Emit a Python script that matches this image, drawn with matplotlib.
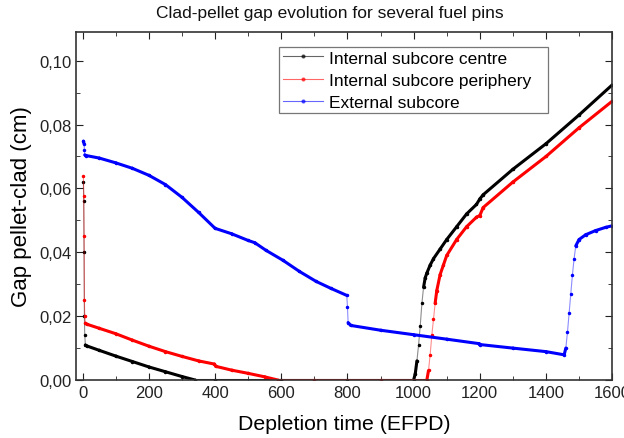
import matplotlib
matplotlib.use('Agg')
import numpy as np
import matplotlib.pyplot as plt
from matplotlib.lines import Line2D
from matplotlib.collections import LineCollection
from matplotlib.ticker import MultipleLocator, FuncFormatter

plt.rcParams['font.family'] = ['Liberation Sans', 'DejaVu Sans']

# depletion time (EFPD) and gap (cm) for each pin
centre_t = [2, 3, 4, 5, 6, 8, 12, 50, 100, 150, 200, 250, 300, 340, 400, 600, 800, 1000,
            1005, 1010, 1015, 1020, 1025, 1030, 1035, 1040, 1050, 1060, 1080, 1100, 1130,
            1160, 1190, 1200, 1210, 1300, 1400, 1500, 1600]
centre_gap = [0.062, 0.056, 0.040, 0.020, 0.014, 0.011, 0.0107, 0.0093, 0.0075, 0.0058, 0.0041,
              0.0026, 0.0011, 0.0, 0.0, 0.0, 0.0, 0.0,
              0.002, 0.006, 0.011, 0.017, 0.024, 0.029, 0.032, 0.0335, 0.036, 0.038, 0.041, 0.044,
              0.048, 0.052, 0.055, 0.0567, 0.058, 0.066, 0.074, 0.083, 0.0924]

periph_t = [2, 3, 4, 5, 6, 8, 12, 50, 100, 150, 200, 250, 300, 350, 398, 402, 450, 500, 550,
            590, 700, 900, 1040, 1045, 1050, 1055, 1060, 1065, 1070, 1080, 1090, 1100, 1130,
            1160, 1190, 1200, 1210, 1300, 1400, 1500, 1600]
periph_gap = [0.0638, 0.0575, 0.045, 0.025, 0.020, 0.0178, 0.0175, 0.0162, 0.0145, 0.0125, 0.0106,
              0.0089, 0.0074, 0.0060, 0.0050, 0.0043, 0.0031, 0.0021, 0.0010,
              0.0, 0.0, 0.0, 0.0, 0.003, 0.008, 0.014, 0.019, 0.024, 0.028, 0.033, 0.036, 0.039, 0.044,
              0.048, 0.051, 0.0515, 0.054, 0.062, 0.070, 0.079, 0.0873]

ext_t = [2, 4, 5, 6, 10, 50, 100, 150, 200, 250, 300, 350, 400, 450, 500, 520, 554, 605, 655,
         705, 750, 798, 800, 802, 810, 900, 1000, 1100, 1198, 1202, 1300, 1400, 1455,
         1460, 1465, 1470, 1475, 1480, 1485, 1490, 1500, 1520, 1550, 1580, 1600]
ext_gap = [0.0748, 0.074, 0.072, 0.0705, 0.0703, 0.0695, 0.0680, 0.0663, 0.0641, 0.0612, 0.0572,
           0.0525, 0.0475, 0.0458, 0.0437, 0.0430, 0.0406, 0.0375, 0.0340, 0.0309, 0.0287, 0.0265,
           0.0230, 0.0180, 0.0171, 0.0156, 0.0142, 0.0128, 0.0114, 0.0111, 0.0100, 0.0089, 0.0079,
           0.0100, 0.0150, 0.0210, 0.0270, 0.0330, 0.0380, 0.0420, 0.0440, 0.0455, 0.0468, 0.0478, 0.0483]

labels = ['Internal subcore centre', 'Internal subcore periphery', 'External subcore']
colors = ['black', 'red', 'blue']

fig = plt.figure(figsize=(6.24, 4.39), dpi=100)
ax = fig.add_axes([0.122, 0.132, 0.859, 0.793])

series = [(centre_t, centre_gap), (periph_t, periph_gap), (ext_t, ext_gap)]
for (t, g), c in zip(series, colors):
    t = np.asarray(t, float)
    g = np.asarray(g, float)
    segs = np.stack([np.column_stack([t[:-1], g[:-1]]), np.column_stack([t[1:], g[1:]])], axis=1)
    # steep jumps are drawn thin, the slow drift thick
    steep = np.abs(np.diff(g) / np.diff(t)) > 0.0008
    lw = np.where(steep, 0.8, 2.2)
    alpha = np.where(steep, 0.45, 1.0)
    rgba = [matplotlib.colors.to_rgba(c, a) for a in alpha]
    ax.add_collection(LineCollection(segs, colors=rgba, linewidths=lw, capstyle='round'))
    ax.plot(t, g, linestyle='none', color=c, marker='.', markersize=3)

ax.set_xlim(-20, 1600)
ax.set_ylim(0, 0.109)
ax.xaxis.set_major_locator(MultipleLocator(200))
ax.xaxis.set_minor_locator(MultipleLocator(100))
ax.yaxis.set_major_locator(MultipleLocator(0.02))
ax.yaxis.set_minor_locator(MultipleLocator(0.01))
ax.yaxis.set_major_formatter(FuncFormatter(lambda v, p: f'{v:.2f}'.replace('.', ',')))
ax.tick_params(which='both', direction='in', top=True, right=True, labelsize=12, colors='#222222')
ax.tick_params(which='major', length=5)
ax.tick_params(which='minor', length=3)
for s in ax.spines.values():
    s.set_color('#333333')
    s.set_linewidth(1.2)

ax.set_xlabel('Depletion time (EFPD)', fontsize=15.3, labelpad=10)
ax.set_ylabel('Gap pellet-clad (cm)', fontsize=16, labelpad=5)
fig.text(0.529, 0.970, 'Clad-pellet gap evolution for several fuel pins', fontsize=12.5,
         ha='center', va='center', color='#111111')

handles = [Line2D([], [], color=c, linewidth=0.8, alpha=0.6, marker='.', markersize=4,
                  markerfacecolor=c, markeredgecolor=c) for c in colors]
leg = ax.legend(handles, labels, loc='upper left', bbox_to_anchor=(0.3787, 0.5, 0.502, 0.457),
                mode='expand', fontsize=12.5, frameon=True, fancybox=False, edgecolor='#555555',
                handlelength=2.3, borderpad=0.2, labelspacing=0.4, handletextpad=0.4,
                borderaxespad=0)
leg.get_frame().set_linewidth(0.9)

fig.savefig('out.png', dpi=100)
